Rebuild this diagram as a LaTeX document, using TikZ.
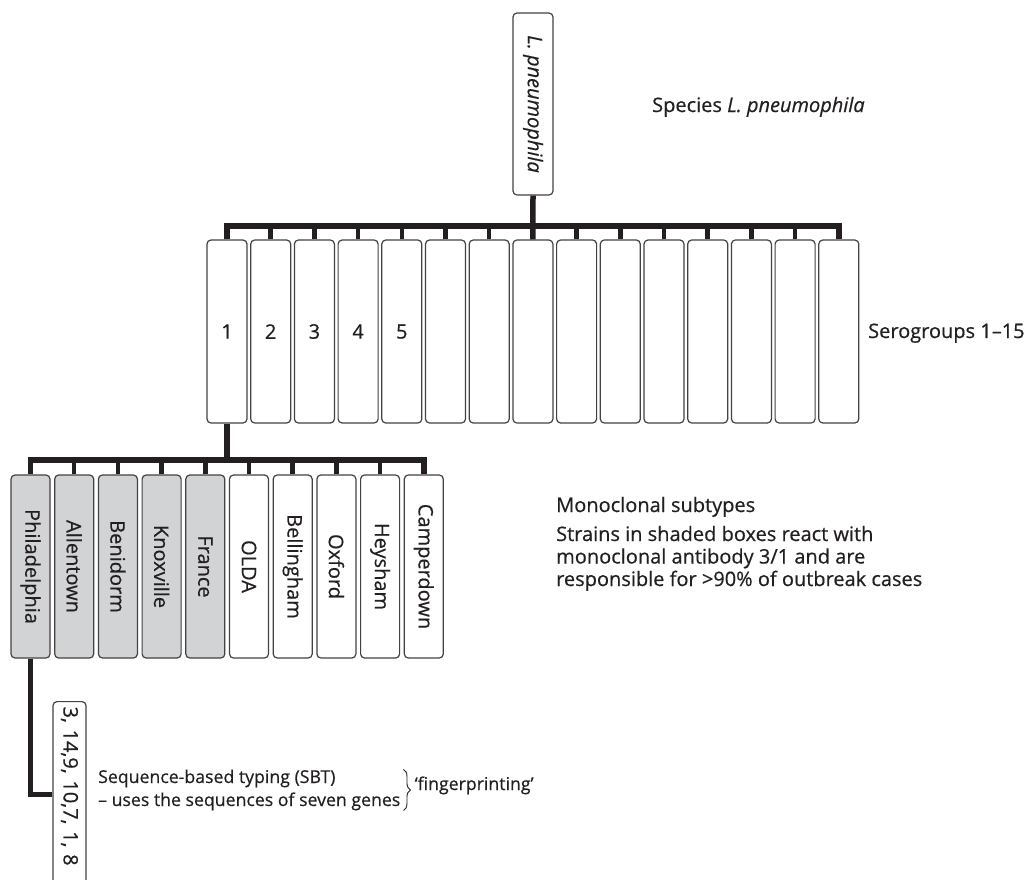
\documentclass[tikz,border=0pt]{standalone}
\usepackage{fontspec}
\setmainfont{Open Sans}[FakeBold=0.5]
\usetikzlibrary{decorations.pathreplacing}

\definecolor{ink}{HTML}{231F20}
\definecolor{shade}{HTML}{D1D3D4}

\tikzset{
    box/.style={draw=ink!85, line width=1.2pt, rounded corners=4pt, fill=white,
        inner sep=0pt, text=ink, font=\fontsize{20}{24}\selectfont},
    stem/.style={ink, line width=5.5pt},
    twig/.style={ink, line width=4.5pt},
    note/.style={text=ink, inner sep=0pt, font=\fontsize{20}{22.5}\selectfont},
}

\begin{document}
\begin{tikzpicture}[x=1pt, y=-1pt]
    \useasboundingbox (0,0) rectangle (1030,879);
    \clip (0,0) rectangle (1030,879);

    % Species box
    \node[box, rotate=-90, minimum width=182pt, minimum height=40pt] (species) at (533,104) {\textit{L. pneumophila}};

    % Serogroups 1-15
    \foreach \i in {1,...,15}
        \node[box, minimum width=40pt, minimum height=183pt] (sg\i) at ({227+43.7*(\i-1)},331.5) {\ifnum\i<6 \i\fi};

    % Monoclonal subtypes (first five shaded)
    \foreach \name [count=\i] in {Philadelphia,Allentown,Benidorm,Knoxville,France,OLDA,Bellingham,Oxford,Heysham,Camperdown} {
        \ifnum\i<6 \def\boxfill{shade}\else\def\boxfill{white}\fi
        \node[box, fill=\boxfill, rotate=-90, minimum width=183pt, minimum height=39pt] (m\i) at ({30.5+43.7*(\i-1)},566.5) {\name};
    }

    % SBT box
    \node[box, rotate=-90, anchor=west, minimum height=33pt, text width=176pt, inner xsep=5pt, align=left] (sbt) at (69.5,701) {3, 14,9, 10,7, 1, 8};

    % Tree: species -> serogroups
    \coordinate (busA) at (0,226);
    \draw[stem] (species.east) -- (sg8.north);
    \draw[stem] (sg1.north) -- (sg1.north |- busA) -- (sg15.north |- busA) -- (sg15.north);
    \foreach \i in {2,...,14}
        \draw[twig] (sg\i.north) -- (sg\i.north |- busA);

    % Tree: serogroup 1 -> monoclonal subtypes
    \coordinate (busB) at (0,460);
    \draw[stem] (sg1.south) -- (sg1.south |- busB);
    \draw[stem] (m1.west) -- (m1.west |- busB) -- (m10.west |- busB) -- (m10.west);
    \foreach \i in {2,...,9}
        \draw[twig] (m\i.west) -- (m\i.west |- busB);

    % Philadelphia -> SBT
    \draw[stem, line join=miter] (m1.east) |- (sbt.south);

    % Side labels
    \node[note, anchor=base west] (splabel) at (652,112) {Species \textit{L. pneumophila}};
    \node[note, anchor=base west] (sglabel) at (868,338) {Serogroups 1--15};
    \node[note, anchor=base west] (mtitle) at (556,512) {Monoclonal subtypes};
    \node[note, anchor=base west, align=left] (mnote) at (556,586)
        {Strains in shaded boxes react with\\monoclonal antibody 3/1 and are\\responsible for >90\% of outbreak cases};

    % SBT note and brace
    \node[note, anchor=base west, align=left, font=\fontsize{17.7}{23}\selectfont] (sbtnote) at (98,806)
        {Sequence-based typing (SBT)\\-- uses the sequences of seven genes};
    \draw[ink, line width=0.9pt, decorate, decoration={brace, amplitude=7pt}]
        ([xshift=3pt]sbtnote.north east) -- ([xshift=3pt]sbtnote.south east);
    \node[note, anchor=base west, xshift=14pt, font=\fontsize{17.7}{23}\selectfont] (finger) at (sbtnote.east |- 0,790) {`fingerprinting'};
\end{tikzpicture}
\end{document}
